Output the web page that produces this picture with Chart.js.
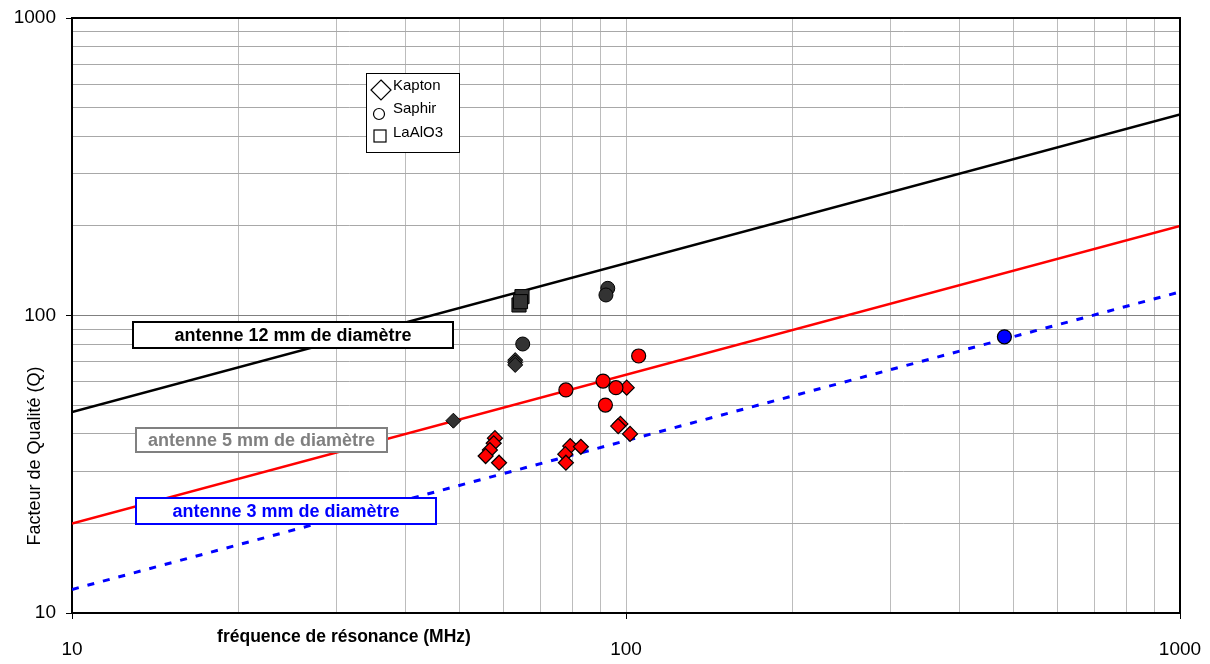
<!DOCTYPE html>
<html>
<head>
<meta charset="utf-8"/>
<title>Facteur de qualite</title>
<script src="https://cdn.jsdelivr.net/npm/chart.js@4/dist/chart.umd.min.js"></script>
<style>
  html, body { margin: 0; padding: 0; background: #fff; }
  #wrap { width: 1210px; height: 664px; }
</style>
</head>
<body>
<div id="wrap"><canvas id="myChart"></canvas></div>
<script>
// frequencies in MHz, Q values
var kaptonDarkF = [48.8, 63.1, 63.1, 63.1];
var kaptonDarkQ = [44.3, 70.8, 69.5, 68.2];
var kaptonRedF = [58.0, 57.7, 56.8, 55.8, 59.0, 79.3, 82.9, 77.7, 77.9, 97.7, 96.8, 101.7, 100.3];
var kaptonRedQ = [38.7, 37.2, 35.3, 33.7, 32.0, 36.4, 36.2, 34.2, 32.0, 43.2, 42.5, 40.0, 57.2];
var saphirDarkF = [92.7, 92.0, 65.1];
var saphirDarkQ = [123.4, 117.2, 80.2];
var saphirRedF = [77.9, 90.9, 95.9, 91.8, 105.4];
var saphirRedQ = [56.2, 60.2, 57.2, 50.0, 73.1];
var saphirBlueF = [482];
var saphirBlueQ = [84.8];
var laalo3F = [64.9, 64.1, 64.5];
var laalo3Q = [115.7, 108.5, 111.3];

// antenna lines (ends at 10 and 1000 MHz)
var lineF = [10, 1000];
var q12mm = [47.4, 474];
var q5mm = [20, 200];
var q3mm = [12, 120];

var xTicks = [10, 20, 30, 40, 50, 60, 70, 80, 90, 100, 200, 300, 400, 500, 600, 700, 800, 900, 1000];
var yTicks = [10, 20, 30, 40, 50, 60, 70, 80, 90, 100, 200, 300, 400, 500, 600, 700, 800, 900, 1000];
var decades = [10, 100, 1000];

var boxLabels = ['antenne 12 mm de diamètre', 'antenne 5 mm de diamètre', 'antenne 3 mm de diamètre'];
var legendNames = ['Kapton', 'Saphir', 'LaAlO3'];

function pts(xs, ys) {
    var out = [];
    for (var i = 0; i < xs.length; i++) out.push({x: xs[i], y: ys[i]});
    return out;
}

var FONT = '"Liberation Sans", Arial, sans-serif';

var extras = {
    id: 'extras',
    afterDraw: function(chart) {
        var c = chart.ctx, a = chart.chartArea;
        c.save();
        // top and right border of plot area
        c.strokeStyle = '#000';
        c.lineWidth = 2;
        c.beginPath();
        c.moveTo(a.left, a.top);
        c.lineTo(a.right, a.top);
        c.lineTo(a.right, a.bottom);
        c.stroke();

        // labelled boxes
        var boxes = [
            {l: 133, t: 322, r: 453, b: 348, col: '#000'},
            {l: 136, t: 428, r: 387, b: 452, col: '#808080'},
            {l: 136, t: 498, r: 436, b: 524, col: '#0000ff'}
        ];
        c.font = 'bold 18px ' + FONT;
        c.textAlign = 'center';
        c.textBaseline = 'middle';
        boxes.forEach(function(b, i) {
            c.fillStyle = '#fff';
            c.fillRect(b.l, b.t, b.r - b.l, b.b - b.t);
            c.strokeStyle = b.col;
            c.lineWidth = 2;
            c.strokeRect(b.l, b.t, b.r - b.l, b.b - b.t);
            c.fillStyle = b.col;
            c.fillText(boxLabels[i], (b.l + b.r) / 2, (b.t + b.b) / 2 + 1);
        });

        // legend box
        c.fillStyle = '#fff';
        c.fillRect(366, 73, 93, 79);
        c.strokeStyle = '#000';
        c.lineWidth = 1;
        c.strokeRect(366.5, 73.5, 93, 79);
        c.lineWidth = 1.2;
        c.beginPath();
        c.moveTo(381, 80); c.lineTo(391, 90); c.lineTo(381, 100); c.lineTo(371, 90); c.closePath();
        c.stroke();
        c.beginPath();
        c.arc(379, 114, 5.5, 0, Math.PI * 2);
        c.stroke();
        c.strokeRect(374, 130, 12, 12);
        c.fillStyle = '#000';
        c.font = '15px ' + FONT;
        c.textAlign = 'left';
        c.fillText(legendNames[0], 393, 86);
        c.fillText(legendNames[1], 393, 109);
        c.fillText(legendNames[2], 393, 133);

        // axis titles
        c.font = 'bold 17.5px ' + FONT;
        c.textAlign = 'center';
        c.fillText('fréquence de résonance (MHz)', 344, 637);
        c.font = '18px ' + FONT;
        c.translate(35, 456);
        c.rotate(-Math.PI / 2);
        c.fillText('Facteur de Qualité (Q)', 0, 0);
        c.restore();
    }
};

function xGridCol(ctx) {
    return '#bcbcbc';
}
function yGridCol(ctx) {
    var v = ctx.tick ? ctx.tick.value : 0;
    return v === 100 ? '#808080' : '#a8a8a8';
}
function tickCol(ctx) {
    var v = ctx.tick ? ctx.tick.value : 0;
    return decades.indexOf(v) >= 0 ? '#000' : 'rgba(0,0,0,0)';
}

var ctx = document.getElementById('myChart');
var myChart = new Chart(ctx, {
    type: 'scatter',
    data: {
        datasets: [
            {label: 'LaAlO3', data: pts(laalo3F, laalo3Q), pointStyle: 'rect', pointRadius: 10,
             backgroundColor: '#333333', borderColor: '#000', borderWidth: 1, order: 1},
            {label: 'Saphir', data: pts(saphirDarkF, saphirDarkQ), pointStyle: 'circle', pointRadius: 7,
             backgroundColor: '#333333', borderColor: '#000', borderWidth: 1, order: 1},
            {label: 'Saphir', data: pts(saphirRedF, saphirRedQ), pointStyle: 'circle', pointRadius: 7,
             backgroundColor: '#ff0000', borderColor: '#000', borderWidth: 1.2, order: 1},
            {label: 'Saphir', data: pts(saphirBlueF, saphirBlueQ), pointStyle: 'circle', pointRadius: 7,
             backgroundColor: '#0000ff', borderColor: '#000', borderWidth: 1.2, order: 1},
            {label: 'Kapton', data: pts(kaptonDarkF, kaptonDarkQ), pointStyle: 'rectRot', pointRadius: 7.5,
             backgroundColor: '#333333', borderColor: '#000', borderWidth: 1, order: 1},
            {label: 'Kapton', data: pts(kaptonRedF, kaptonRedQ), pointStyle: 'rectRot', pointRadius: 7.5,
             backgroundColor: '#ff0000', borderColor: '#000', borderWidth: 1.2, order: 1},
            {label: '12 mm', data: pts(lineF, q12mm), showLine: true, pointRadius: 0,
             borderColor: '#000', borderWidth: 2.5, order: 2},
            {label: '5 mm', data: pts(lineF, q5mm), showLine: true, pointRadius: 0,
             borderColor: '#ff0000', borderWidth: 2.5, order: 2},
            {label: '3 mm', data: pts(lineF, q3mm), showLine: true, pointRadius: 0,
             borderColor: '#0000ff', borderWidth: 3, borderDash: [7, 9], order: 2}
        ]
    },
    options: {
        responsive: true,
        maintainAspectRatio: false,
        animation: false,
        layout: {padding: {left: 0, top: 18, right: 30, bottom: 0}},
        plugins: {legend: {display: false}, tooltip: {enabled: false}},
        scales: {
            x: {
                type: 'logarithmic', min: 10, max: 1000,
                afterBuildTicks: function(s) { s.ticks = xTicks.map(function(v) { return {value: v}; }); },
                afterFit: function(s) { s.height = 51; s.paddingLeft = 0; s.paddingRight = 0; },
                border: {color: '#000', width: 2},
                grid: {color: xGridCol, tickColor: tickCol, tickLength: 6, lineWidth: 1},
                ticks: {
                    autoSkip: false, maxRotation: 0, padding: 19, color: '#000',
                    font: {family: FONT, size: 19},
                    callback: function(v) { return decades.indexOf(v) >= 0 ? String(v) : ''; }
                }
            },
            y: {
                type: 'logarithmic', min: 10, max: 1000,
                afterBuildTicks: function(s) { s.ticks = yTicks.map(function(v) { return {value: v}; }); },
                afterFit: function(s) { s.width = 72; s.paddingTop = 0; s.paddingBottom = 0; },
                border: {color: '#000', width: 2},
                grid: {color: yGridCol, tickColor: tickCol, tickLength: 6, lineWidth: 1},
                ticks: {
                    autoSkip: false, padding: 10, color: '#000',
                    font: {family: FONT, size: 19},
                    callback: function(v) { return decades.indexOf(v) >= 0 ? String(v) : ''; }
                }
            }
        }
    },
    plugins: [extras]
});
</script>
</body>
</html>
